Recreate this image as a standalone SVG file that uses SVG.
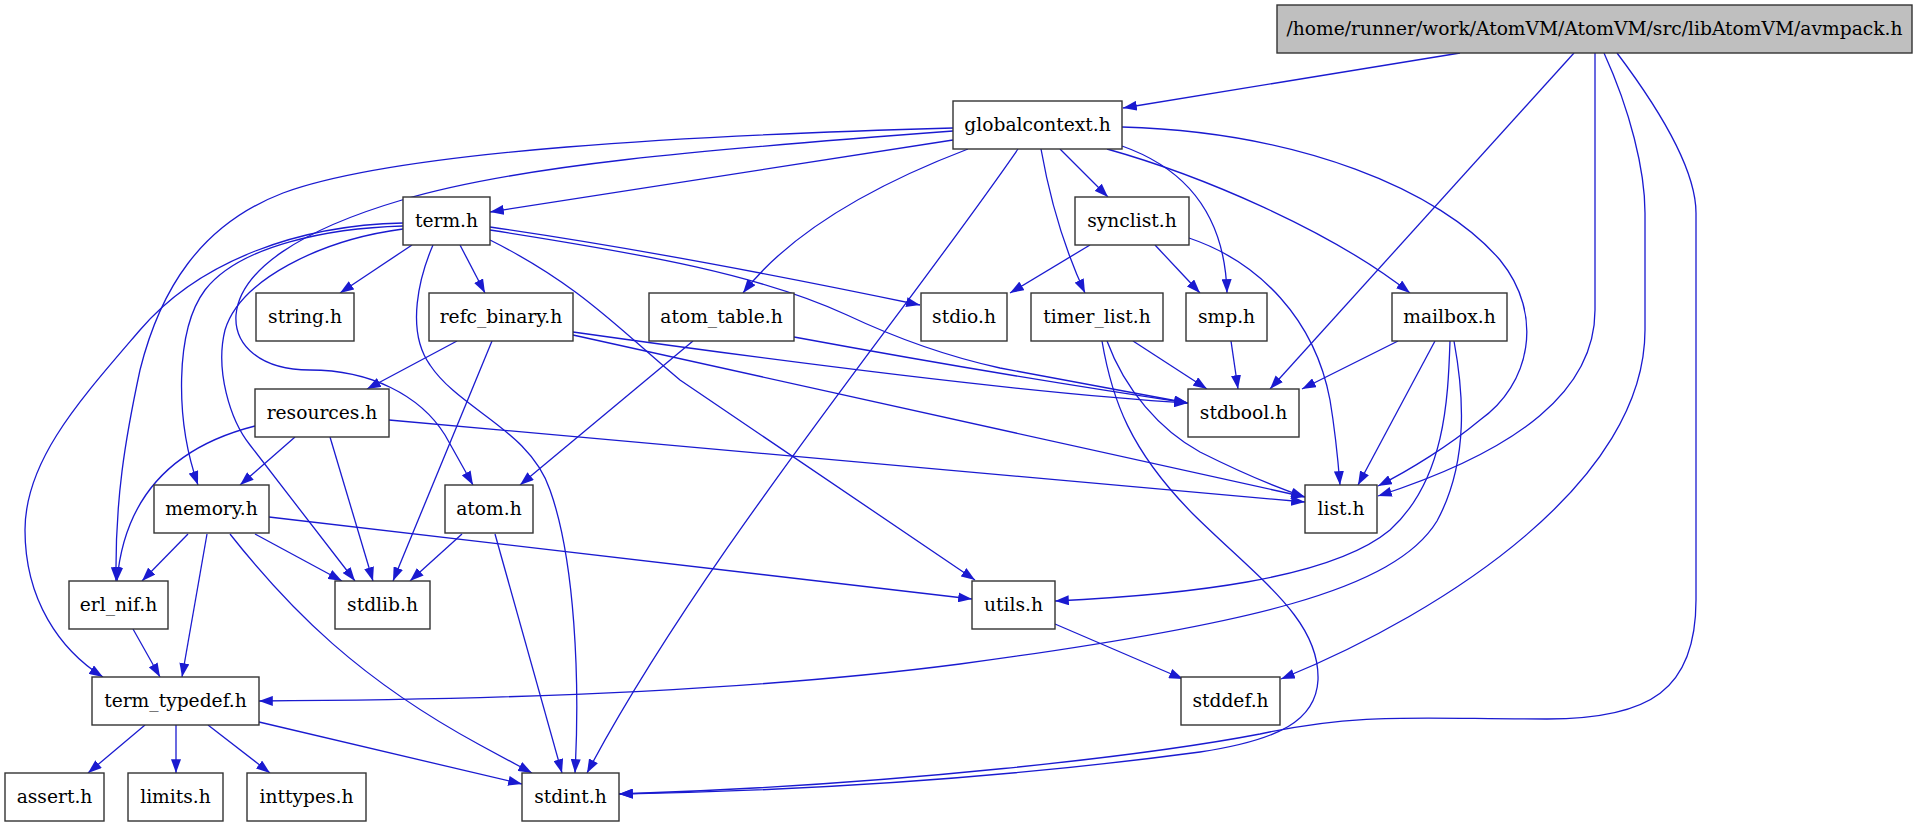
<svg xmlns="http://www.w3.org/2000/svg" width="1917" height="827" viewBox="0 0 1917 827">
<defs>
<marker id="ah" markerUnits="userSpaceOnUse" markerWidth="14" markerHeight="10" viewBox="0 0 13 9.4" refX="13" refY="4.7" orient="auto">
<path d="M0,0 L13,4.7 L0,9.4 z" fill="#1a1ad0"/>
</marker>
</defs>
<style>
.n rect{fill:#fff;stroke:#333;stroke-width:1.4}
.n.root rect{fill:#bfbfbf}
.n text{font-family:"DejaVu Serif",serif;font-size:18.67px;fill:#000;text-anchor:middle}
#edges path{fill:none;stroke:#1a1ad0;stroke-width:1.3;marker-end:url(#ah)}
</style>
<rect width="1917" height="827" fill="#fff"/>
<g id="edges">
<path d="M1460,53 L1123,108"/>
<path d="M1574,53 L1270,389"/>
<path d="M1595,53 V310 C1595,390 1520,450 1378,496"/>
<path d="M1604,53 C1630,110 1645,170 1645,213 V330 C1645,480 1450,610 1281,679"/>
<path d="M1617,53 C1660,110 1696,170 1696,213 V600 C1696,690 1650,719 1547,719 C1420,719 1360,712 1260,734 C1150,755 900,785 619,794"/>
<path d="M953,140 L490,212"/>
<path d="M953,131 C700,150 520,165 402,200 C300,230 240,270 236,315 C234,345 260,370 310,370 C370,370 420,395 445,435 L473,485"/>
<path d="M953,128 C700,135 400,150 283,193 C200,225 160,290 140,370 C125,440 115,500 116,581"/>
<path d="M968,149 C900,175 800,220 743,293"/>
<path d="M1018,149 C900,320 700,560 587,773"/>
<path d="M1041,149 C1050,200 1065,250 1085,293"/>
<path d="M1060,149 L1108,197"/>
<path d="M1122,146 C1190,170 1225,220 1227,293"/>
<path d="M1107,149 C1200,175 1330,230 1410,293"/>
<path d="M1122,127 C1300,132 1440,190 1500,260 C1545,315 1530,385 1480,420 C1450,445 1410,470 1378,486"/>
<path d="M412,245 L340,293"/>
<path d="M460,245 L485,293"/>
<path d="M433,245 C420,275 405,330 430,365 C460,410 530,430 550,490 C575,560 580,680 575,773"/>
<path d="M490,240 C580,285 620,330 680,380 L975,580"/>
<path d="M490,227 C650,250 800,280 920,305"/>
<path d="M490,230 C650,255 760,275 847,315 C900,340 950,357 1000,368 L1188,403"/>
<path d="M403,226 C330,228 240,245 205,290 C175,330 175,420 198,485"/>
<path d="M403,229 C320,240 240,280 225,330 C215,370 230,420 250,445 L355,581"/>
<path d="M403,223 C300,225 200,260 140,330 C80,400 25,460 25,530 C25,600 60,650 103,677"/>
<path d="M457,341 L367,389"/>
<path d="M492,341 L393,581"/>
<path d="M573,332 Q1000,392 1188,403"/>
<path d="M573,335 L1305,497"/>
<path d="M794,337 Q1000,375 1188,403"/>
<path d="M693,341 L520,485"/>
<path d="M295,437 L240,485"/>
<path d="M330,437 L373,581"/>
<path d="M255,426 C180,445 125,490 117,581"/>
<path d="M389,420 L1305,502"/>
<path d="M188,534 L142,581"/>
<path d="M207,534 L182,677"/>
<path d="M255,534 L342,581"/>
<path d="M230,534 C290,610 360,680 480,745 L532,773"/>
<path d="M269,517 L972,599"/>
<path d="M462,534 L410,581"/>
<path d="M495,534 L562,773"/>
<path d="M133,629 L160,677"/>
<path d="M145,725 L88,773"/>
<path d="M176,725 L176,773"/>
<path d="M208,725 L270,773"/>
<path d="M259,722 L522,784"/>
<path d="M1055,624 L1183,679"/>
<path d="M1133,341 L1207,389"/>
<path d="M1107,341 C1125,390 1160,430 1200,452 C1240,472 1275,487 1305,497"/>
<path d="M1102,341 C1112,400 1130,450 1193,514 C1260,580 1320,620 1318,680 C1316,720 1280,740 1200,752 C1050,772 850,790 619,794"/>
<path d="M1090,245 L1010,293"/>
<path d="M1155,245 L1200,293"/>
<path d="M1189,238 C1260,262 1315,320 1330,400 C1335,430 1338,460 1340,485"/>
<path d="M1231,341 L1238,389"/>
<path d="M1398,341 L1302,389"/>
<path d="M1435,341 L1358,485"/>
<path d="M1450,341 C1448,400 1445,480 1390,530 C1330,580 1180,595 1055,601"/>
<path d="M1454,341 C1463,390 1470,460 1437,521 C1395,590 1250,625 960,664 C760,690 500,700 259,701"/>
</g>
<g id="avmpack" class="n root"><rect x="1277" y="5" width="635" height="48"/><text x="1594.5" y="35">/home/runner/work/AtomVM/AtomVM/src/libAtomVM/avmpack.h</text></g>
<g id="globalcontext" class="n"><rect x="953" y="101" width="169" height="48"/><text x="1037.5" y="131">globalcontext.h</text></g>
<g id="term" class="n"><rect x="403" y="197" width="87" height="48"/><text x="446.5" y="227">term.h</text></g>
<g id="synclist" class="n"><rect x="1075" y="197" width="114" height="48"/><text x="1132" y="227">synclist.h</text></g>
<g id="string" class="n"><rect x="256" y="293" width="98" height="48"/><text x="305" y="323">string.h</text></g>
<g id="refc_binary" class="n"><rect x="429" y="293" width="144" height="48"/><text x="501" y="323">refc_binary.h</text></g>
<g id="atom_table" class="n"><rect x="649" y="293" width="145" height="48"/><text x="721.5" y="323">atom_table.h</text></g>
<g id="stdio" class="n"><rect x="921" y="293" width="86" height="48"/><text x="964" y="323">stdio.h</text></g>
<g id="timer_list" class="n"><rect x="1031" y="293" width="132" height="48"/><text x="1097" y="323">timer_list.h</text></g>
<g id="smp" class="n"><rect x="1186" y="293" width="81" height="48"/><text x="1226.5" y="323">smp.h</text></g>
<g id="mailbox" class="n"><rect x="1392" y="293" width="115" height="48"/><text x="1449.5" y="323">mailbox.h</text></g>
<g id="resources" class="n"><rect x="255" y="389" width="134" height="48"/><text x="322" y="419">resources.h</text></g>
<g id="stdbool" class="n"><rect x="1188" y="389" width="111" height="48"/><text x="1243.5" y="419">stdbool.h</text></g>
<g id="memory" class="n"><rect x="154" y="485" width="115" height="48"/><text x="211.5" y="515">memory.h</text></g>
<g id="atom" class="n"><rect x="445" y="485" width="88" height="48"/><text x="489" y="515">atom.h</text></g>
<g id="list" class="n"><rect x="1305" y="485" width="72" height="48"/><text x="1341" y="515">list.h</text></g>
<g id="erl_nif" class="n"><rect x="69" y="581" width="99" height="48"/><text x="118.5" y="611">erl_nif.h</text></g>
<g id="stdlib" class="n"><rect x="335" y="581" width="95" height="48"/><text x="382.5" y="611">stdlib.h</text></g>
<g id="utils" class="n"><rect x="972" y="581" width="83" height="48"/><text x="1013.5" y="611">utils.h</text></g>
<g id="term_typedef" class="n"><rect x="92" y="677" width="167" height="48"/><text x="175.5" y="707">term_typedef.h</text></g>
<g id="stddef" class="n"><rect x="1181" y="677" width="99" height="48"/><text x="1230.5" y="707">stddef.h</text></g>
<g id="assert" class="n"><rect x="5" y="773" width="99" height="48"/><text x="54.5" y="803">assert.h</text></g>
<g id="limits" class="n"><rect x="128" y="773" width="95" height="48"/><text x="175.5" y="803">limits.h</text></g>
<g id="inttypes" class="n"><rect x="247" y="773" width="119" height="48"/><text x="306.5" y="803">inttypes.h</text></g>
<g id="stdint" class="n"><rect x="522" y="773" width="97" height="48"/><text x="570.5" y="803">stdint.h</text></g>
</svg>
